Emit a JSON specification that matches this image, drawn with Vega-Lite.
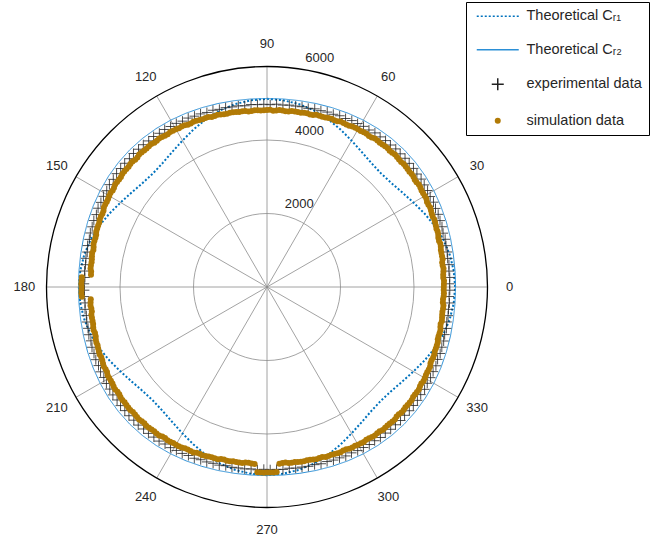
{
  "$schema": "https://vega.github.io/schema/vega-lite/v6.json",
  "width": 441,
  "height": 441,
  "autosize": {"type": "none"},
  "padding": {"left": 46.5, "top": 66.5, "right": 166.5, "bottom": 32.5},
  "config": {"view": {"stroke": null}, "font": "Liberation Sans"},
  "datasets": {
    "spokes": [{"a": 0}, {"a": 30}, {"a": 60}, {"a": 90}, {"a": 120}, {"a": 150}],
    "ring1": [{"r": 2000}],
    "ring2": [{"r": 4000}],
    "outer": [{"r": 6000}],
    "alab": [{"a": 0, "t": "0"}, {"a": 30, "t": "30"}, {"a": 60, "t": "60"}, {"a": 90, "t": "90"}, {"a": 120, "t": "120"}, {"a": 150, "t": "150"}, {"a": 180, "t": "180"}, {"a": 210, "t": "210"}, {"a": 240, "t": "240"}, {"a": 270, "t": "270"}, {"a": 300, "t": "300"}, {"a": 330, "t": "330"}],
    "rlab": [{"r": 2100, "t": "2000"}, {"r": 4100, "t": "4000"}, {"r": 6100, "t": "6000"}],
    "c1": [{"a":0,"r":5120},{"a":5,"r":5100},{"a":10,"r":5050},{"a":15,"r":4970},{"a":20,"r":4860},{"a":25,"r":4730},{"a":30,"r":4600},{"a":35,"r":4490},{"a":40,"r":4410},{"a":45,"r":4380},{"a":50,"r":4410},{"a":55,"r":4490},{"a":60,"r":4600},{"a":65,"r":4730},{"a":70,"r":4860},{"a":75,"r":4970},{"a":80,"r":5050},{"a":85,"r":5100},
           {"a":90,"r":5120},{"a":95,"r":5100},{"a":100,"r":5050},{"a":105,"r":4970},{"a":110,"r":4860},{"a":115,"r":4730},{"a":120,"r":4600},{"a":125,"r":4490},{"a":130,"r":4410},{"a":135,"r":4380},{"a":140,"r":4410},{"a":145,"r":4490},{"a":150,"r":4600},{"a":155,"r":4730},{"a":160,"r":4860},{"a":165,"r":4970},{"a":170,"r":5050},{"a":175,"r":5100},
           {"a":180,"r":5120},{"a":185,"r":5100},{"a":190,"r":5050},{"a":195,"r":4970},{"a":200,"r":4860},{"a":205,"r":4730},{"a":210,"r":4600},{"a":215,"r":4490},{"a":220,"r":4410},{"a":225,"r":4380},{"a":230,"r":4410},{"a":235,"r":4490},{"a":240,"r":4600},{"a":245,"r":4730},{"a":250,"r":4860},{"a":255,"r":4970},{"a":260,"r":5050},{"a":265,"r":5100},
           {"a":270,"r":5120},{"a":275,"r":5100},{"a":280,"r":5050},{"a":285,"r":4970},{"a":290,"r":4860},{"a":295,"r":4730},{"a":300,"r":4600},{"a":305,"r":4490},{"a":310,"r":4410},{"a":315,"r":4380},{"a":320,"r":4410},{"a":325,"r":4490},{"a":330,"r":4600},{"a":335,"r":4730},{"a":340,"r":4860},{"a":345,"r":4970},{"a":350,"r":5050},{"a":355,"r":5100},{"a":360,"r":5120}],
    "c2": [{"a":0,"r":5130},{"a":5,"r":5135},{"a":10,"r":5148},{"a":15,"r":5168},{"a":20,"r":5192},{"a":25,"r":5218},{"a":30,"r":5243},{"a":35,"r":5262},{"a":40,"r":5275},{"a":45,"r":5280},{"a":50,"r":5275},{"a":55,"r":5262},{"a":60,"r":5243},{"a":65,"r":5218},{"a":70,"r":5192},{"a":75,"r":5168},{"a":80,"r":5148},{"a":85,"r":5135},
           {"a":90,"r":5130},{"a":95,"r":5135},{"a":100,"r":5148},{"a":105,"r":5168},{"a":110,"r":5192},{"a":115,"r":5218},{"a":120,"r":5243},{"a":125,"r":5262},{"a":130,"r":5275},{"a":135,"r":5280},{"a":140,"r":5275},{"a":145,"r":5262},{"a":150,"r":5243},{"a":155,"r":5218},{"a":160,"r":5192},{"a":165,"r":5168},{"a":170,"r":5148},{"a":175,"r":5135},
           {"a":180,"r":5130},{"a":185,"r":5135},{"a":190,"r":5148},{"a":195,"r":5168},{"a":200,"r":5192},{"a":205,"r":5218},{"a":210,"r":5243},{"a":215,"r":5262},{"a":220,"r":5275},{"a":225,"r":5280},{"a":230,"r":5275},{"a":235,"r":5262},{"a":240,"r":5243},{"a":245,"r":5218},{"a":250,"r":5192},{"a":255,"r":5168},{"a":260,"r":5148},{"a":265,"r":5135},
           {"a":270,"r":5130},{"a":275,"r":5135},{"a":280,"r":5148},{"a":285,"r":5168},{"a":290,"r":5192},{"a":295,"r":5218},{"a":300,"r":5243},{"a":305,"r":5262},{"a":310,"r":5275},{"a":315,"r":5280},{"a":320,"r":5275},{"a":325,"r":5262},{"a":330,"r":5243},{"a":335,"r":5218},{"a":340,"r":5192},{"a":345,"r":5168},{"a":350,"r":5148},{"a":355,"r":5135},{"a":360,"r":5130}],
    "exp": [{"a":1,"r":4970},{"a":3,"r":4979},{"a":5,"r":4970},{"a":7,"r":4988},{"a":9,"r":4977},{"a":11,"r":4995},{"a":13,"r":4998},{"a":15,"r":5018},{"a":17,"r":5010},{"a":19,"r":5036},{"a":21,"r":5042},{"a":23,"r":5060},{"a":25,"r":5059},{"a":27,"r":5084},{"a":29,"r":5077},{"a":31,"r":5098},{"a":33,"r":5101},{"a":35,"r":5119},{"a":37,"r":5108},{"a":39,"r":5128},{"a":41,"r":5127},{"a":43,"r":5136},{"a":45,"r":5125},{"a":47,"r":5138},{"a":49,"r":5119},{"a":51,"r":5126},{"a":53,"r":5115},{"a":55,"r":5119},{"a":57,"r":5094},{"a":59,"r":5100},{"a":61,"r":5085},{"a":63,"r":5082},{"a":65,"r":5059},{"a":67,"r":5062},{"a":69,"r":5034},{"a":71,"r":5034},{"a":73,"r":5017},{"a":75,"r":5018},{"a":77,"r":4991},{"a":79,"r":4997},{"a":81,"r":4985},{"a":83,"r":4986},{"a":85,"r":4970},{"a":87,"r":4981},{"a":89,"r":4962},
            {"a":91,"r":4973},{"a":93,"r":4969},{"a":95,"r":4983},{"a":97,"r":4969},{"a":99,"r":4990},{"a":101,"r":4992},{"a":103,"r":5008},{"a":105,"r":5005},{"a":107,"r":5029},{"a":109,"r":5023},{"a":111,"r":5045},{"a":113,"r":5050},{"a":115,"r":5072},{"a":117,"r":5065},{"a":119,"r":5090},{"a":121,"r":5095},{"a":123,"r":5111},{"a":125,"r":5106},{"a":127,"r":5127},{"a":129,"r":5115},{"a":131,"r":5130},{"a":133,"r":5126},{"a":135,"r":5138},{"a":137,"r":5119},{"a":139,"r":5132},{"a":141,"r":5123},{"a":143,"r":5125},{"a":145,"r":5106},{"a":147,"r":5113},{"a":149,"r":5087},{"a":151,"r":5088},{"a":153,"r":5072},{"a":155,"r":5072},{"a":157,"r":5043},{"a":159,"r":5047},{"a":161,"r":5031},{"a":163,"r":5027},{"a":165,"r":5005},{"a":167,"r":5010},{"a":169,"r":4984},{"a":171,"r":4988},{"a":173,"r":4976},{"a":175,"r":4983},{"a":177,"r":4962},{"a":179,"r":4975},
            {"a":181,"r":4970},{"a":183,"r":4979},{"a":185,"r":4970},{"a":187,"r":4988},{"a":189,"r":4977},{"a":191,"r":4995},{"a":193,"r":4998},{"a":195,"r":5018},{"a":197,"r":5010},{"a":199,"r":5036},{"a":201,"r":5042},{"a":203,"r":5060},{"a":205,"r":5059},{"a":207,"r":5084},{"a":209,"r":5077},{"a":211,"r":5098},{"a":213,"r":5101},{"a":215,"r":5119},{"a":217,"r":5108},{"a":219,"r":5128},{"a":221,"r":5127},{"a":223,"r":5136},{"a":225,"r":5125},{"a":227,"r":5138},{"a":229,"r":5119},{"a":231,"r":5126},{"a":233,"r":5115},{"a":235,"r":5119},{"a":237,"r":5094},{"a":239,"r":5100},{"a":241,"r":5085},{"a":243,"r":5082},{"a":245,"r":5059},{"a":247,"r":5062},{"a":249,"r":5034},{"a":251,"r":5034},{"a":253,"r":5017},{"a":255,"r":5018},{"a":257,"r":4991},{"a":259,"r":4997},{"a":261,"r":4985},{"a":263,"r":4986},{"a":265,"r":4970},{"a":267,"r":4981},{"a":269,"r":4962},
            {"a":271,"r":4973},{"a":273,"r":4969},{"a":275,"r":4983},{"a":277,"r":4969},{"a":279,"r":4990},{"a":281,"r":4992},{"a":283,"r":5008},{"a":285,"r":5005},{"a":287,"r":5029},{"a":289,"r":5023},{"a":291,"r":5045},{"a":293,"r":5050},{"a":295,"r":5072},{"a":297,"r":5065},{"a":299,"r":5090},{"a":301,"r":5095},{"a":303,"r":5111},{"a":305,"r":5106},{"a":307,"r":5127},{"a":309,"r":5115},{"a":311,"r":5130},{"a":313,"r":5126},{"a":315,"r":5138},{"a":317,"r":5119},{"a":319,"r":5132},{"a":321,"r":5123},{"a":323,"r":5125},{"a":325,"r":5106},{"a":327,"r":5113},{"a":329,"r":5087},{"a":331,"r":5088},{"a":333,"r":5072},{"a":335,"r":5072},{"a":337,"r":5043},{"a":339,"r":5047},{"a":341,"r":5031},{"a":343,"r":5027},{"a":345,"r":5005},{"a":347,"r":5010},{"a":349,"r":4984},{"a":351,"r":4988},{"a":353,"r":4976},{"a":355,"r":4983},{"a":357,"r":4962},{"a":359,"r":4975}],
    "sim": [{"a":0,"r":4810},{"a":1,"r":4815},{"a":2,"r":4820},{"a":3,"r":4803},{"a":4,"r":4807},{"a":5,"r":4819},{"a":6,"r":4830},{"a":7,"r":4816},{"a":8,"r":4813},{"a":9,"r":4839},{"a":10,"r":4837},{"a":11,"r":4835},{"a":12,"r":4837},{"a":13,"r":4854},{"a":14,"r":4862},{"a":15,"r":4846},{"a":16,"r":4850},{"a":17,"r":4873},{"a":18,"r":4882},{"a":19,"r":4876},{"a":20,"r":4889},{"a":21,"r":4900},{"a":22,"r":4911},{"a":23,"r":4899},{"a":24,"r":4908},{"a":25,"r":4924},{"a":26,"r":4940},{"a":27,"r":4929},{"a":28,"r":4930},{"a":29,"r":4958},{"a":30,"r":4958},{"a":31,"r":4956},{"a":32,"r":4959},{"a":33,"r":4976},{"a":34,"r":4983},{"a":35,"r":4966},{"a":36,"r":4969},{"a":37,"r":4990},{"a":38,"r":4995},{"a":39,"r":4986},{"a":40,"r":4994},{"a":41,"r":5001},{"a":42,"r":5007},{"a":43,"r":4990},{"a":44,"r":4993},{"a":45,"r":5003},
            {"a":46,"r":5012},{"a":47,"r":4994},{"a":48,"r":4987},{"a":49,"r":5007},{"a":50,"r":4999},{"a":51,"r":4990},{"a":52,"r":4985},{"a":53,"r":4993},{"a":54,"r":4992},{"a":55,"r":4966},{"a":56,"r":4960},{"a":57,"r":4973},{"a":58,"r":4969},{"a":59,"r":4952},{"a":60,"r":4953},{"a":61,"r":4952},{"a":62,"r":4950},{"a":63,"r":4925},{"a":64,"r":4921},{"a":65,"r":4924},{"a":66,"r":4927},{"a":67,"r":4903},{"a":68,"r":4891},{"a":69,"r":4906},{"a":70,"r":4894},{"a":71,"r":4880},{"a":72,"r":4872},{"a":73,"r":4876},{"a":74,"r":4873},{"a":75,"r":4846},{"a":76,"r":4839},{"a":77,"r":4851},{"a":78,"r":4847},{"a":79,"r":4831},{"a":80,"r":4832},{"a":81,"r":4833},{"a":82,"r":4833},{"a":83,"r":4812},{"a":84,"r":4811},{"a":85,"r":4819},{"a":86,"r":4826},{"a":87,"r":4807},{"a":88,"r":4800},{"a":89,"r":4821},
            {"a":90,"r":4815},{"a":91,"r":4808},{"a":92,"r":4807},{"a":93,"r":4819},{"a":94,"r":4824},{"a":95,"r":4804},{"a":96,"r":4805},{"a":97,"r":4825},{"a":98,"r":4830},{"a":99,"r":4822},{"a":100,"r":4832},{"a":101,"r":4842},{"a":102,"r":4850},{"a":103,"r":4838},{"a":104,"r":4845},{"a":105,"r":4861},{"a":106,"r":4875},{"a":107,"r":4864},{"a":108,"r":4865},{"a":109,"r":4893},{"a":110,"r":4894},{"a":111,"r":4893},{"a":112,"r":4898},{"a":113,"r":4915},{"a":114,"r":4925},{"a":115,"r":4909},{"a":116,"r":4915},{"a":117,"r":4938},{"a":118,"r":4947},{"a":119,"r":4941},{"a":120,"r":4953},{"a":121,"r":4963},{"a":122,"r":4972},{"a":123,"r":4960},{"a":124,"r":4966},{"a":125,"r":4981},{"a":126,"r":4994},{"a":127,"r":4981},{"a":128,"r":4978},{"a":129,"r":5003},{"a":130,"r":4999},{"a":131,"r":4994},{"a":132,"r":4994},{"a":133,"r":5006},{"a":134,"r":5010},{"a":135,"r":4988},
            {"a":136,"r":4987},{"a":137,"r":5003},{"a":138,"r":5004},{"a":139,"r":4990},{"a":140,"r":4994},{"a":141,"r":4997},{"a":142,"r":4998},{"a":143,"r":4977},{"a":144,"r":4975},{"a":145,"r":4981},{"a":146,"r":4985},{"a":147,"r":4964},{"a":148,"r":4952},{"a":149,"r":4969},{"a":150,"r":4958},{"a":151,"r":4945},{"a":152,"r":4937},{"a":153,"r":4941},{"a":154,"r":4938},{"a":155,"r":4909},{"a":156,"r":4902},{"a":157,"r":4912},{"a":158,"r":4908},{"a":159,"r":4889},{"a":160,"r":4889},{"a":161,"r":4887},{"a":162,"r":4885},{"a":163,"r":4860},{"a":164,"r":4856},{"a":165,"r":4861},{"a":166,"r":4864},{"a":167,"r":4842},{"a":168,"r":4830},{"a":169,"r":4848},{"a":170,"r":4837},{"a":171,"r":4826},{"a":172,"r":4820},{"a":173,"r":4828},{"a":174,"r":4828},{"a":175,"r":4804},{"a":176,"r":4801},{"a":177,"r":5045},{"a":178,"r":5050},{"a":179,"r":5055},
            {"a":180,"r":5048},{"a":181,"r":5050},{"a":182,"r":5055},{"a":183,"r":5045},{"a":184,"r":4807},{"a":185,"r":4819},{"a":186,"r":4830},{"a":187,"r":4816},{"a":188,"r":4813},{"a":189,"r":4839},{"a":190,"r":4837},{"a":191,"r":4835},{"a":192,"r":4837},{"a":193,"r":4854},{"a":194,"r":4862},{"a":195,"r":4846},{"a":196,"r":4850},{"a":197,"r":4873},{"a":198,"r":4882},{"a":199,"r":4876},{"a":200,"r":4889},{"a":201,"r":4900},{"a":202,"r":4911},{"a":203,"r":4899},{"a":204,"r":4908},{"a":205,"r":4924},{"a":206,"r":4940},{"a":207,"r":4929},{"a":208,"r":4930},{"a":209,"r":4958},{"a":210,"r":4958},{"a":211,"r":4956},{"a":212,"r":4959},{"a":213,"r":4976},{"a":214,"r":4983},{"a":215,"r":4966},{"a":216,"r":4969},{"a":217,"r":4990},{"a":218,"r":4995},{"a":219,"r":4986},{"a":220,"r":4994},{"a":221,"r":5001},{"a":222,"r":5007},{"a":223,"r":4990},{"a":224,"r":4993},{"a":225,"r":5003},
            {"a":226,"r":5012},{"a":227,"r":4994},{"a":228,"r":4987},{"a":229,"r":5007},{"a":230,"r":4999},{"a":231,"r":4990},{"a":232,"r":4985},{"a":233,"r":4993},{"a":234,"r":4992},{"a":235,"r":4966},{"a":236,"r":4960},{"a":237,"r":4973},{"a":238,"r":4969},{"a":239,"r":4952},{"a":240,"r":4953},{"a":241,"r":4952},{"a":242,"r":4950},{"a":243,"r":4925},{"a":244,"r":4921},{"a":245,"r":4924},{"a":246,"r":4927},{"a":247,"r":4903},{"a":248,"r":4891},{"a":249,"r":4906},{"a":250,"r":4894},{"a":251,"r":4880},{"a":252,"r":4872},{"a":253,"r":4876},{"a":254,"r":4873},{"a":255,"r":4846},{"a":256,"r":4839},{"a":257,"r":4851},{"a":258,"r":4847},{"a":259,"r":4831},{"a":260,"r":4832},{"a":261,"r":4833},{"a":262,"r":4833},{"a":263,"r":4812},{"a":264,"r":4811},{"a":265,"r":4819},{"a":266,"r":4826},{"a":267,"r":5045},{"a":268,"r":5050},{"a":269,"r":5052},
            {"a":270,"r":5050},{"a":271,"r":5050},{"a":272,"r":5050},{"a":273,"r":5044},{"a":274,"r":4824},{"a":275,"r":4804},{"a":276,"r":4805},{"a":277,"r":4825},{"a":278,"r":4830},{"a":279,"r":4822},{"a":280,"r":4832},{"a":281,"r":4842},{"a":282,"r":4850},{"a":283,"r":4838},{"a":284,"r":4845},{"a":285,"r":4861},{"a":286,"r":4875},{"a":287,"r":4864},{"a":288,"r":4865},{"a":289,"r":4893},{"a":290,"r":4894},{"a":291,"r":4893},{"a":292,"r":4898},{"a":293,"r":4915},{"a":294,"r":4925},{"a":295,"r":4909},{"a":296,"r":4915},{"a":297,"r":4938},{"a":298,"r":4947},{"a":299,"r":4941},{"a":300,"r":4953},{"a":301,"r":4963},{"a":302,"r":4972},{"a":303,"r":4960},{"a":304,"r":4966},{"a":305,"r":4981},{"a":306,"r":4994},{"a":307,"r":4981},{"a":308,"r":4978},{"a":309,"r":5003},{"a":310,"r":4999},{"a":311,"r":4994},{"a":312,"r":4994},{"a":313,"r":5006},{"a":314,"r":5010},{"a":315,"r":4988},
            {"a":316,"r":4987},{"a":317,"r":5003},{"a":318,"r":5004},{"a":319,"r":4990},{"a":320,"r":4994},{"a":321,"r":4997},{"a":322,"r":4998},{"a":323,"r":4977},{"a":324,"r":4975},{"a":325,"r":4981},{"a":326,"r":4985},{"a":327,"r":4964},{"a":328,"r":4952},{"a":329,"r":4969},{"a":330,"r":4958},{"a":331,"r":4945},{"a":332,"r":4937},{"a":333,"r":4941},{"a":334,"r":4938},{"a":335,"r":4909},{"a":336,"r":4902},{"a":337,"r":4912},{"a":338,"r":4908},{"a":339,"r":4889},{"a":340,"r":4889},{"a":341,"r":4887},{"a":342,"r":4885},{"a":343,"r":4860},{"a":344,"r":4856},{"a":345,"r":4861},{"a":346,"r":4864},{"a":347,"r":4842},{"a":348,"r":4830},{"a":349,"r":4848},{"a":350,"r":4837},{"a":351,"r":4826},{"a":352,"r":4820},{"a":353,"r":4828},{"a":354,"r":4828},{"a":355,"r":4804},{"a":356,"r":4801},{"a":357,"r":4815},{"a":358,"r":4817},{"a":359,"r":4809}]
  },
  "layer": [
    {
      "data": {"name": "spokes"},
      "transform": [
        {"calculate": "6000*cos(datum.a*PI/180)", "as": "x"},
        {"calculate": "6000*sin(datum.a*PI/180)", "as": "y"},
        {"calculate": "-datum.x", "as": "x2"},
        {"calculate": "-datum.y", "as": "y2"}
      ],
      "mark": {"type": "rule", "stroke": "#8c8c8c", "strokeWidth": 0.8},
      "encoding": {
        "x": {"field": "x", "type": "quantitative", "scale": {"domain": [-6000, 6000], "nice": false, "zero": false}, "axis": null},
        "y": {"field": "y", "type": "quantitative", "scale": {"domain": [-6000, 6000], "nice": false, "zero": false}, "axis": null},
        "x2": {"field": "x2"},
        "y2": {"field": "y2"}
      }
    },
    {
      "data": {"name": "ring1"},
      "mark": {"type": "arc", "filled": false, "fill": null, "stroke": "#8c8c8c", "strokeWidth": 0.8, "theta": 0, "theta2": 6.2832},
      "encoding": {
        "radius": {"field": "r", "type": "quantitative", "scale": {"type": "linear", "domain": [0, 6000], "range": [0, 220.5], "zero": true}}
      }
    },
    {
      "data": {"name": "ring2"},
      "mark": {"type": "arc", "filled": false, "fill": null, "stroke": "#8c8c8c", "strokeWidth": 0.8, "theta": 0, "theta2": 6.2832},
      "encoding": {
        "radius": {"field": "r", "type": "quantitative"}
      }
    },
    {
      "data": {"name": "outer"},
      "mark": {"type": "arc", "filled": false, "fill": null, "stroke": "#000000", "strokeWidth": 1.3, "theta": 0, "theta2": 6.2832},
      "encoding": {
        "radius": {"field": "r", "type": "quantitative"}
      }
    },
    {
      "data": {"name": "alab"},
      "transform": [
        {"calculate": "6600*cos(datum.a*PI/180)", "as": "x"},
        {"calculate": "6600*sin(datum.a*PI/180)", "as": "y"}
      ],
      "mark": {"type": "text", "fontSize": 13, "color": "#262626", "align": "center", "baseline": "middle"},
      "encoding": {
        "x": {"field": "x", "type": "quantitative"},
        "y": {"field": "y", "type": "quantitative"},
        "text": {"field": "t"}
      }
    },
    {
      "data": {"name": "rlab"},
      "transform": [
        {"calculate": "datum.r*cos(82*PI/180)", "as": "x"},
        {"calculate": "datum.r*sin(82*PI/180)", "as": "y"}
      ],
      "mark": {"type": "text", "fontSize": 13, "color": "#262626", "align": "left", "baseline": "bottom", "dx": 7},
      "encoding": {
        "x": {"field": "x", "type": "quantitative"},
        "y": {"field": "y", "type": "quantitative"},
        "text": {"field": "t"}
      }
    },
    {
      "data": {"name": "c1"},
      "transform": [
        {"calculate": "datum.r*cos(datum.a*PI/180)", "as": "x"},
        {"calculate": "datum.r*sin(datum.a*PI/180)", "as": "y"}
      ],
      "mark": {"type": "line", "strokeWidth": 2},
      "encoding": {
        "x": {"field": "x", "type": "quantitative"},
        "y": {"field": "y", "type": "quantitative"},
        "order": {"field": "a", "type": "quantitative"},
        "stroke": {
          "datum": "c1", "type": "nominal",
          "scale": {"domain": ["c1", "c2", "exp", "sim"], "range": ["#0072BD", "#2B8FD6", "#222222", "transparent"]},
          "legend": {
            "title": null, "orient": "none", "legendX": 419.5, "legendY": -64.5,
            "padding": 7, "rowPadding": 18.5, "symbolSize": 36, "symbolOffset": 17.5, "labelOffset": 21.5,
            "symbolStrokeWidth": 1.5,
            "labelFont": "Liberation Sans", "labelFontSize": 14.5, "labelColor": "#262626", "labelLimit": 300,
            "strokeColor": "#000000", "fillColor": "#ffffff", "symbolOpacity": 1,
            "labelExpr": "datum.value === 'c1' ? 'Theoretical Cᵣ₁' : datum.value === 'c2' ? 'Theoretical Cᵣ₂' : datum.value === 'exp' ? 'experimental data' : 'simulation data'"
          }
        },
        "strokeDash": {
          "datum": "c1", "type": "nominal",
          "scale": {"domain": ["c1", "c2", "exp", "sim"], "range": [[2, 2], [1, 0], [1, 0], [1, 0]]}
        }
      }
    },
    {
      "data": {"name": "c2"},
      "transform": [
        {"calculate": "datum.r*cos(datum.a*PI/180)", "as": "x"},
        {"calculate": "datum.r*sin(datum.a*PI/180)", "as": "y"}
      ],
      "mark": {"type": "line", "strokeWidth": 1},
      "encoding": {
        "x": {"field": "x", "type": "quantitative"},
        "y": {"field": "y", "type": "quantitative"},
        "order": {"field": "a", "type": "quantitative"},
        "stroke": {"datum": "c2", "type": "nominal"},
        "strokeDash": {"datum": "c2", "type": "nominal"}
      }
    },
    {
      "data": {"name": "exp"},
      "transform": [
        {"calculate": "datum.r*cos(datum.a*PI/180)", "as": "x"},
        {"calculate": "datum.r*sin(datum.a*PI/180)", "as": "y"}
      ],
      "mark": {"type": "point", "size": 25, "filled": false, "strokeWidth": 0.8, "opacity": 1},
      "encoding": {
        "x": {"field": "x", "type": "quantitative"},
        "y": {"field": "y", "type": "quantitative"},
        "stroke": {"datum": "exp", "type": "nominal"},
        "shape": {
          "datum": "exp", "type": "nominal",
          "scale": {"domain": ["c1", "c2", "exp", "sim"], "range": ["M-7,0H7", "M-7,0H7", "M-2,0H2M0,-2V2", "circle"]}
        }
      }
    },
    {
      "data": {"name": "sim"},
      "transform": [
        {"calculate": "datum.r*cos(datum.a*PI/180)", "as": "x"},
        {"calculate": "datum.r*sin(datum.a*PI/180)", "as": "y"}
      ],
      "mark": {"type": "point", "size": 36, "filled": true, "opacity": 1},
      "encoding": {
        "x": {"field": "x", "type": "quantitative"},
        "y": {"field": "y", "type": "quantitative"},
        "shape": {"datum": "sim", "type": "nominal"},
        "fill": {
          "datum": "sim", "type": "nominal",
          "scale": {"domain": ["c1", "c2", "exp", "sim"], "range": ["transparent", "transparent", "transparent", "#B17A06"]}
        }
      }
    }
  ]
}
